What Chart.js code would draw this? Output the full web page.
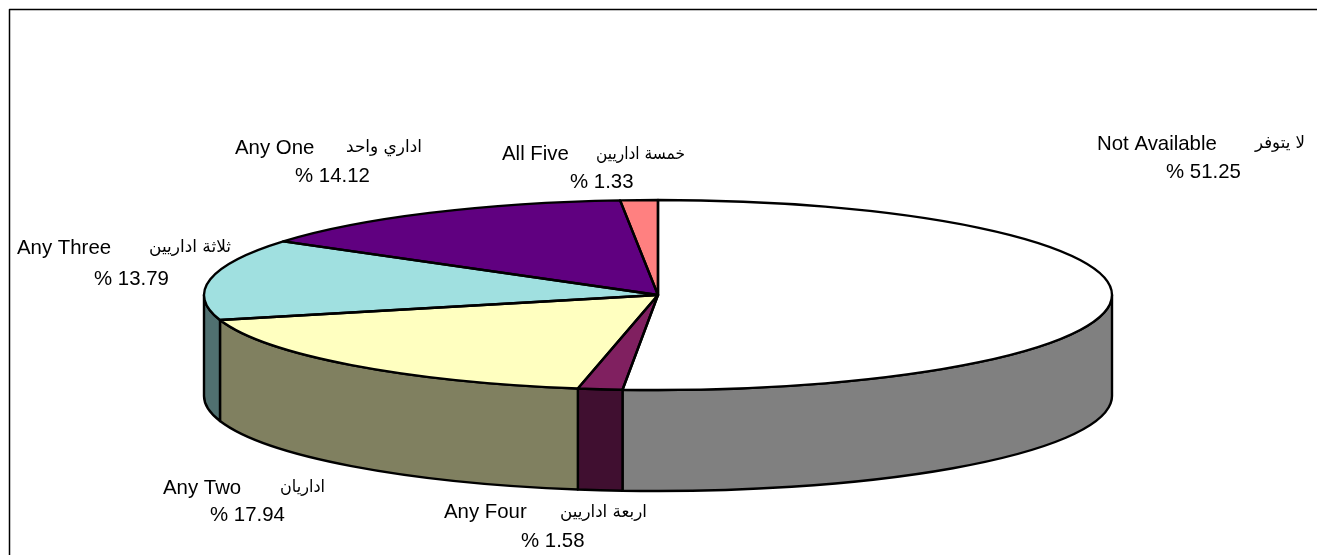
<!DOCTYPE html>
<html>
<head>
<meta charset="utf-8">
<title>Pie</title>
<script src="https://cdn.jsdelivr.net/npm/chart.js@4/dist/chart.umd.min.js"></script>
<style>
    html, body { margin: 0; padding: 0; background: #fff; }
    canvas { display: block; }
</style>
</head>
<body>
<canvas id="chart" width="1317" height="555"></canvas>
<script>
const categories = ["Not Available", "Any Four", "Any Two", "Any Three", "Any One", "All Five"];
const arabicNames = ["لا يتوفر", "اربعة اداريين", "اداريان", "ثلاثة اداريين", "اداري واحد", "خمسة اداريين"];
const percents = [51.25, 1.58, 17.94, 13.79, 14.12, 1.33];
const topColors = ["#ffffff", "#802060", "#ffffc0", "#a0e0e0", "#600080", "#ff8080"];
const sideColors = ["#808080", "#400f30", "#808060", "#507070", "#300040", "#804040"];

// where each label sits: english left + baseline, arabic left/right + baseline, percent left + baseline
const labelSpots = [
    { en: [1097, 150], ar: [1255, 1305, 148], pct: [1166, 178] },
    { en: [444, 518], ar: [560, 647, 517], pct: [521, 547] },
    { en: [163, 494], ar: [280, 325, 492], pct: [210, 521] },
    { en: [17, 254], ar: [149, 231, 252], pct: [94, 285] },
    { en: [235, 154], ar: [346, 422, 152], pct: [295, 182] },
    { en: [502, 160], ar: [596, 685, 159], pct: [570, 188] }
];

const radiusX = 454;
const radiusY = 95;
const depth = 101;
const edgeWidth = 2.4;

function squash(arc) {
    return { sx: radiusX / arc.outerRadius, sy: radiusY / arc.outerRadius };
}

const pie3d = {
    id: "pie3d",
    beforeDatasetsDraw(chart) {
        const ctx = chart.ctx;
        const arcs = chart.getDatasetMeta(0).data;

        // side wall, only the part of each slice facing the front
        arcs.forEach((arc, i) => {
            const from = Math.max(arc.startAngle, 0);
            const to = Math.min(arc.endAngle, Math.PI);
            if (to <= from) return;
            ctx.beginPath();
            ctx.ellipse(arc.x, arc.y, radiusX, radiusY, 0, from, to);
            ctx.ellipse(arc.x, arc.y + depth, radiusX, radiusY, 0, to, from, true);
            ctx.closePath();
            ctx.fillStyle = sideColors[i];
            ctx.fill();
            ctx.lineWidth = edgeWidth;
            ctx.strokeStyle = "#000";
            ctx.lineJoin = "round";
            ctx.stroke();
        });

        const first = arcs[0];
        const s = squash(first);
        ctx.save();
        ctx.translate(first.x, first.y);
        ctx.scale(s.sx, s.sy);
        ctx.translate(-first.x, -first.y);
    },
    afterDatasetsDraw(chart) {
        const ctx = chart.ctx;
        ctx.restore();

        chart.getDatasetMeta(0).data.forEach(arc => {
            ctx.beginPath();
            ctx.moveTo(arc.x, arc.y);
            ctx.ellipse(arc.x, arc.y, radiusX, radiusY, 0, arc.startAngle, arc.endAngle);
            ctx.closePath();
            ctx.lineWidth = edgeWidth;
            ctx.strokeStyle = "#000";
            ctx.lineJoin = "round";
            ctx.stroke();
        });
    },
    afterDraw(chart) {
        const ctx = chart.ctx;

        // frame, open at the right and the bottom
        ctx.beginPath();
        ctx.moveTo(9.5, 555);
        ctx.lineTo(9.5, 9.5);
        ctx.lineTo(1317, 9.5);
        ctx.lineWidth = 1.5;
        ctx.strokeStyle = "#000";
        ctx.stroke();

        ctx.fillStyle = "#000";
        ctx.textBaseline = "alphabetic";
        ctx.textAlign = "left";
        categories.forEach((name, i) => {
            const spot = labelSpots[i];
            ctx.font = '20.4px "Liberation Sans", Arial, sans-serif';
            ctx.direction = "ltr";
            ctx.fillText(name, spot.en[0], spot.en[1]);
            ctx.fillText("% " + percents[i].toFixed(2), spot.pct[0], spot.pct[1]);

            ctx.font = '17px "DejaVu Sans", sans-serif';
            ctx.direction = "rtl";
            ctx.textAlign = "right";
            ctx.fillText(arabicNames[i], spot.ar[1], spot.ar[2], spot.ar[1] - spot.ar[0]);
            ctx.textAlign = "left";
        });
        ctx.direction = "ltr";
    }
};

new Chart(document.getElementById("chart"), {
    type: "pie",
    data: {
        labels: categories,
        datasets: [{
            data: percents,
            backgroundColor: topColors,
            borderWidth: 0,
            clip: false
        }]
    },
    options: {
        responsive: false,
        animation: false,
        rotation: 0,
        layout: { padding: { top: 35, left: 0, right: 1, bottom: 0 } },
        plugins: {
            legend: { display: false },
            tooltip: { enabled: false }
        }
    },
    plugins: [pie3d]
});
</script>
</body>
</html>
